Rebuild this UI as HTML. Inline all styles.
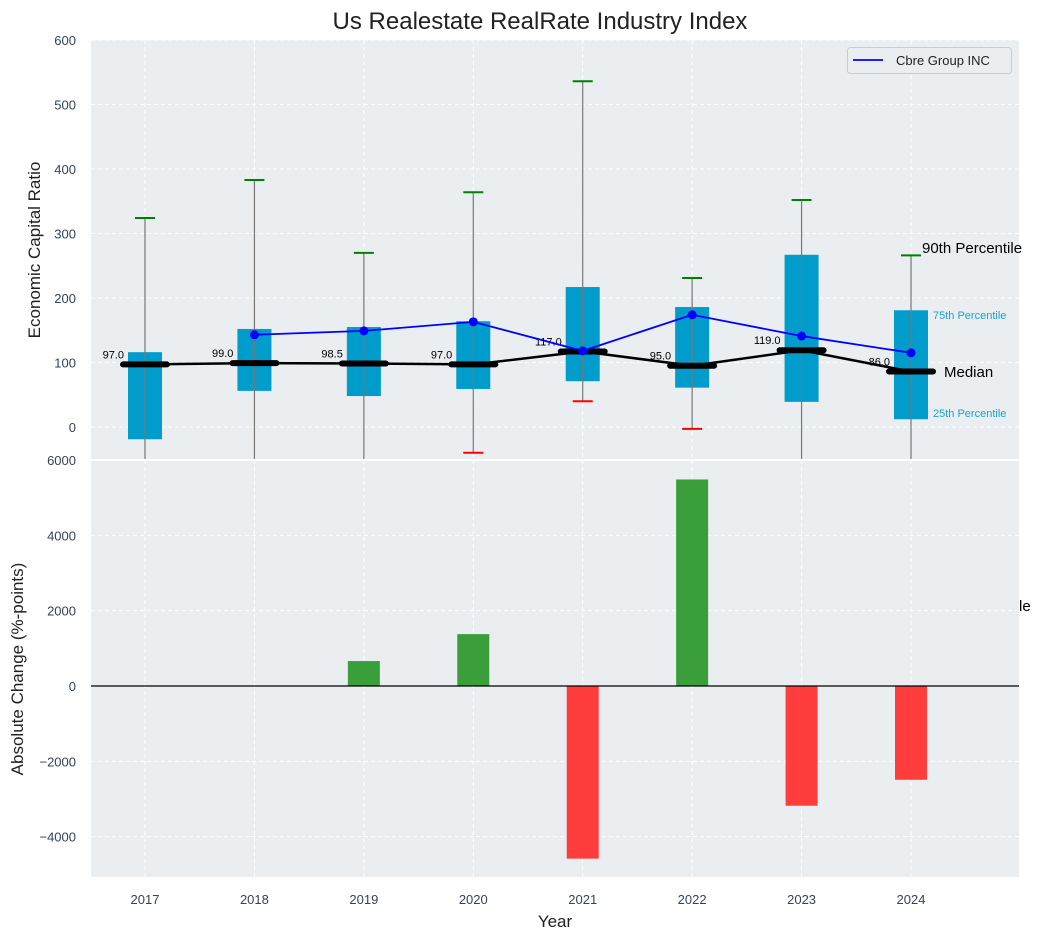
<!DOCTYPE html>
<html><head><meta charset="utf-8"><style>
body{margin:0;background:#fff;font-family:"Liberation Sans",sans-serif;}
svg text{font-family:"Liberation Sans",sans-serif;}
</style></head><body>
<svg id="c" width="1043" height="940"></svg>
<script>
const years=[2017,2018,2019,2020,2021,2022,2023,2024];
const q25=[-19,56,48,59,71,61,39,12];
const q75=[116,152,155,164,217,186,267,181];
const medians=[97.0,99.0,98.5,97.0,117.0,95.0,119.0,86.0];
const p90=[324,383,270,364,536,231,352,266];
const p10=[-100,-100,-100,-40,40,-3,-100,-100];
const companyVals=[null,143,149,163,118,174,141,115];
const changes=[0,0,662,1377,-4583,5483,-3179,-2490];
const topTicks=[0,100,200,300,400,500,600];
const botTicks=[-4000,-2000,0,2000,4000,6000];

const NS="http://www.w3.org/2000/svg";
const svg=document.getElementById('c');
function el(t,a,p){const e=document.createElementNS(NS,t);for(const k in a)e.setAttribute(k,a[k]);(p||svg).appendChild(e);return e;}
const L=91,R=1019;
const tickCol='#34435a';
const x=v=>145+(v-2017)*(911-145)/7;
const yT=v=>427-v*(427-40)/600;
const yB=v=>686-v*(686-460)/6000;
const fmt=v=>(v<0?'\u2212':'')+Math.abs(v);
const defs=el('defs',{});
const cp1=el('clipPath',{id:'ct'},defs);el('rect',{x:L,y:40,width:R-L,height:420},cp1);
const cp2=el('clipPath',{id:'cb'},defs);el('rect',{x:L,y:460,width:R-L,height:417},cp2);

let r=el('rect',{x:L,y:40,width:R-L,height:420,fill:'#eaeef0'});
r=el('rect',{x:L,y:460,width:R-L,height:417,fill:'#eaeef0'});

const gT=el('g',{'clip-path':'url(#ct)'});
const gB=el('g',{'clip-path':'url(#cb)'});
years.forEach(v=>{
 el('line',{x1:x(v),x2:x(v),y1:40,y2:460,stroke:'#fff','stroke-dasharray':'4,3','stroke-width':1},gT);
 el('line',{x1:x(v),x2:x(v),y1:460,y2:877,stroke:'#fff','stroke-dasharray':'4,3','stroke-width':1},gB);
 const t=el('text',{x:x(v),y:904,'text-anchor':'middle','font-size':13,fill:tickCol});t.textContent=v;
 
});
topTicks.forEach(v=>{
 el('line',{x1:L,x2:R,y1:yT(v),y2:yT(v),stroke:'#fff','stroke-dasharray':'4,3'},gT);
 const t=el('text',{x:76,y:yT(v)+5,'text-anchor':'end','font-size':13,fill:tickCol});t.textContent=fmt(v);
 
});
botTicks.forEach(v=>{
 el('line',{x1:L,x2:R,y1:yB(v),y2:yB(v),stroke:'#fff','stroke-dasharray':'4,3'},gB);
 const t=el('text',{x:76,y:yB(v)+5,'text-anchor':'end','font-size':13,fill:tickCol});t.textContent=fmt(v);
 
});
el('line',{x1:L,x2:R,y1:460,y2:460,stroke:'#fff','stroke-width':2});

years.forEach((v,i)=>{
 const cx=x(v);
 const b=el('rect',{x:cx-17,y:yT(q75[i]),width:34,height:yT(q25[i])-yT(q75[i]),fill:'#009ccc'},gT);
 
 const w=el('line',{x1:cx,x2:cx,y1:yT(p90[i]),y2:yT(p10[i]),stroke:'#777','stroke-width':1.2},gT);
 
 const c1=el('line',{x1:cx-10,x2:cx+10,y1:yT(p90[i]),y2:yT(p90[i]),stroke:'green','stroke-width':2},gT);
 
 if(p10[i]>-50){const c2=el('line',{x1:cx-10,x2:cx+10,y1:yT(p10[i]),y2:yT(p10[i]),stroke:'red','stroke-width':2},gT);
 }
});
let pts=years.map((v,i)=>x(v)+','+yT(medians[i])).join(' ');
let pl=el('polyline',{points:pts,fill:'none',stroke:'#000','stroke-width':2.5},gT);

years.forEach((v,i)=>{
 const m=el('line',{x1:x(v)-22,x2:x(v)+22,y1:yT(medians[i]),y2:yT(medians[i]),stroke:'#000','stroke-width':6,'stroke-linecap':'round'},gT);
 
 const t=el('text',{x:x(v)-21,y:yT(medians[i])-6,'text-anchor':'end','font-size':11,fill:'#000'},gT);t.textContent=medians[i].toFixed(1);
 
});
const cIdx=years.map((v,i)=>i).filter(i=>companyVals[i]!=null);
pl=el('polyline',{points:cIdx.map(i=>x(years[i])+','+yT(companyVals[i])).join(' '),fill:'none',stroke:'#0000ff','stroke-width':1.8},gT);

cIdx.forEach(i=>{const c=el('circle',{cx:x(years[i]),cy:yT(companyVals[i]),r:4.5,fill:'#0000ff'},gT);
 });

const ann=[[922,253,'90th Percentile',15,'#000'],[933,319,'75th Percentile',11,'#1aa3cc'],[944,377,'Median',15,'#000'],[933,417,'25th Percentile',11,'#1aa3cc'],[1019,611,'le',15,'#000']];
ann.forEach(a=>{const t=el('text',{x:a[0],y:a[1],'font-size':a[3],fill:a[4]});t.textContent=a[2];
 });

years.forEach((v,i)=>{
 if(!changes[i])return;
 const y0=yB(Math.max(changes[i],0)),h=Math.abs(yB(changes[i])-yB(0));
 const b=el('rect',{x:x(v)-16,y:y0,width:32,height:h,fill:changes[i]>0?'#3a9e3a':'#ff3d3d'},gB);
 
});
el('line',{x1:L,x2:R,y1:yB(0),y2:yB(0),stroke:'#000','stroke-width':1.2});

const lg=el('g',{});
el('rect',{x:847.5,y:47.5,width:164,height:26,rx:3,fill:'#eaeef0',stroke:'#ccc'},lg);
el('line',{x1:853,x2:883,y1:60,y2:60,stroke:'#0000ff','stroke-width':1.8},lg);
let t=el('text',{x:896,y:65,'font-size':13,fill:'#222'},lg);t.textContent='Cbre Group INC';

t=el('text',{x:540,y:29,'text-anchor':'middle','font-size':24,fill:'#222'});t.textContent='Us Realestate RealRate Industry Index';

t=el('text',{x:555,y:927,'text-anchor':'middle','font-size':17,fill:'#222'});t.textContent='Year';

t=el('text',{x:0,y:0,'text-anchor':'middle','font-size':17,fill:'#222',transform:'translate(40,250) rotate(-90)'});t.textContent='Economic Capital Ratio';

t=el('text',{x:0,y:0,'text-anchor':'middle','font-size':17,fill:'#222',transform:'translate(23,669) rotate(-90)'});t.textContent='Absolute Change (%-points)';

</script>
</body></html>
